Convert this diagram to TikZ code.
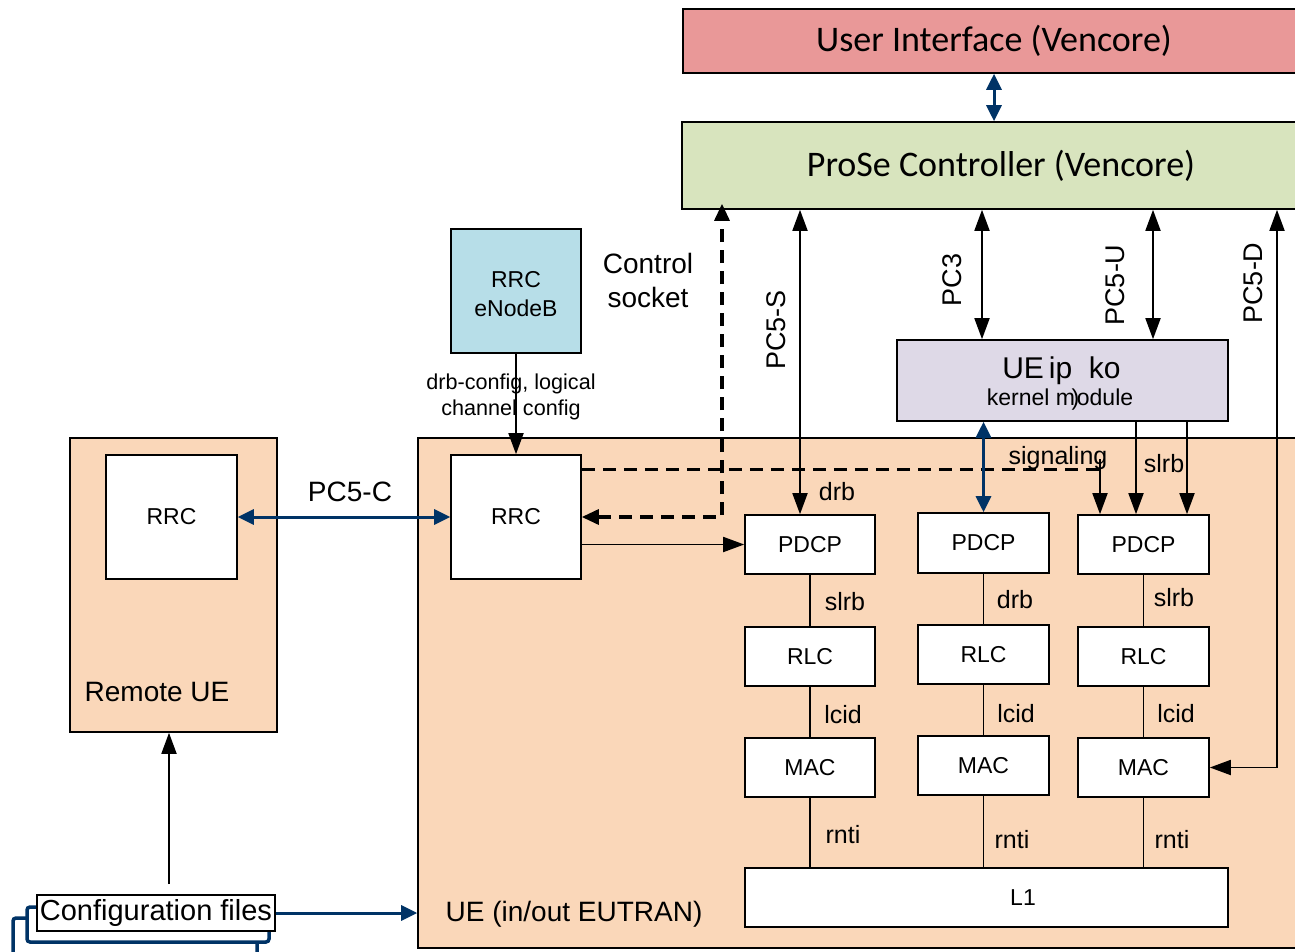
\documentclass[tikz,border=0pt]{standalone}
\usepackage{fontspec}
\setmainfont{Liberation Sans}
\newfontfamily\calib{Carlito}
\usetikzlibrary{arrows.meta,calc}
\definecolor{navy}{RGB}{0,51,102}
\definecolor{peach}{RGB}{250,215,185}
\definecolor{uired}{RGB}{233,152,152}
\definecolor{prosegreen}{RGB}{216,228,190}
\definecolor{enbblue}{RGB}{183,222,232}
\definecolor{lav}{RGB}{222,217,231}
\begin{document}
\begin{tikzpicture}[x=1pt,y=-1pt,
  box/.style={draw=black,line width=1.6pt,fill=white,inner sep=0pt,font=\fontsize{23}{29}\selectfont},
  cont/.style={draw=black,line width=1.6pt,fill=peach,inner sep=0pt},
  lbl/.style={inner sep=0pt,font=\fontsize{25}{29}\selectfont},
  biglbl/.style={inner sep=0pt,font=\fontsize{28}{34}\selectfont},
  rlbl/.style={inner sep=0pt,rotate=90,font=\fontsize{27}{31}\selectfont},
  arr/.style={line width=1.8pt,-{Triangle[length=21pt,width=15pt]}},
  darr/.style={line width=1.8pt,{Triangle[length=21pt,width=15pt]}-{Triangle[length=21pt,width=15pt]}},
  narr/.style={draw=navy,line width=3pt,{Triangle[length=16pt,width=15pt]}-{Triangle[length=16pt,width=15pt]}},
  nsarr/.style={draw=navy,line width=3pt,-{Triangle[length=16pt,width=15pt]}},
  dsh/.style={line width=3.2pt,dash pattern=on 13pt off 8pt},
  conn/.style={line width=1.8pt},
  cfgback/.style={draw=navy,line width=3.5pt,fill=white,rounded corners=3pt,inner sep=0pt},
]
\useasboundingbox (0,0) rectangle (1295,952);

% top boxes
\node[box,fill=uired,minimum width=622,minimum height=64,font=\calib\fontsize{36}{40}\selectfont] (ui) at (994,41) {\raisebox{-1pt}{User Interface (Vencore)}};
\node[box,fill=prosegreen,minimum width=638,minimum height=87,font=\calib\fontsize{36}{40}\selectfont] (prose) at (1001,165.5) {ProSe Controller (Vencore)};

% containers
\node[cont,minimum width=207,minimum height=294] (remote) at (173.5,585) {};
\node[cont,minimum width=900,minimum height=510] (uebox) at (868,693) {};

% eNB
\node[box,fill=enbblue,minimum width=130,minimum height=124] (enb) at (516,291) {};
\node[inner sep=0pt,align=center,font=\fontsize{23}{29}\selectfont] (enbt) at (516,294) {RRC\\eNodeB};

% UE ip ko
\node[box,fill=lav,minimum width=331,minimum height=81] (ueip) at (1062.5,380.5) {};
\node[inner sep=0pt,font=\fontsize{30}{34}\selectfont] (ueipa) at (1061.5,371) {UE\,ip\ \ ko};
\node[inner sep=0pt,font=\fontsize{23}{26}\selectfont] (ueipb) at (1060,400) {kernel m\kern-0.15em)\kern-0.1em odule};

% RRC boxes
\node[box,minimum width=131,minimum height=124] (rrcr) at (171.5,517) {RRC};
\node[box,minimum width=130,minimum height=124] (rrc) at (516,517) {RRC};

% protocol columns
\node[box,minimum width=130,minimum height=59] (pdcp1) at (810,544.5) {PDCP};
\node[box,minimum width=130,minimum height=59] (rlc1) at (810,656.5) {RLC};
\node[box,minimum width=130,minimum height=59] (mac1) at (810,767.5) {MAC};
\node[box,minimum width=131,minimum height=60] (pdcp2) at (983.5,543) {PDCP};
\node[box,minimum width=131,minimum height=59] (rlc2) at (983.5,654.5) {RLC};
\node[box,minimum width=131,minimum height=59] (mac2) at (983.5,765.5) {MAC};
\node[box,minimum width=131,minimum height=59] (pdcp3) at (1143.5,544.5) {PDCP};
\node[box,minimum width=131,minimum height=59] (rlc3) at (1143.5,656.5) {RLC};
\node[box,minimum width=131,minimum height=59] (mac3) at (1143.5,767.5) {MAC};
\node[box,minimum width=483,minimum height=59] (l1) at (986.5,897.5) {};
\node[inner sep=0pt,font=\fontsize{23}{27}\selectfont] (l1t) at (1023,898) {L1};

% configuration files stack
\node[cfgback,minimum width=244,minimum height=47] (cfg3) at (135,941.5) {};
\node[cfgback,minimum width=242,minimum height=35] (cfg2) at (148,924.5) {};
\node[draw=black,line width=1.5pt,fill=white,inner sep=0pt,minimum width=238,minimum height=36,font=\fontsize{29}{33}\selectfont] (cfg) at (156,913) {Configuration files};

% labels
\node[biglbl,align=center] (ctl) at (648,280) {Control\\socket};
\node[inner sep=0pt,align=center,font=\fontsize{21.6}{26}\selectfont] (drbcfg) at (511,397) {drb-config, logical\\channel config};
\node[biglbl] (pc5c) at (350,492) {PC5-C};
\node[biglbl] (remlbl) at (157,692) {Remote UE};
\node[biglbl] (uelbl) at (574,914) {UE (in/out EUTRAN)};
\node[rlbl] (pc5s) at (776,330) {PC5-S};
\node[rlbl] (pc3) at (952,280) {PC3};
\node[rlbl] (pc5u) at (1115,285) {PC5-U};
\node[rlbl] (pc5d) at (1253,283) {PC5-D};
\node[lbl] (sig) at (1058,458) {signaling};
\node[lbl] (slrbt) at (1164,464) {slrb};
\node[lbl] (drbt) at (837,492) {drb};
\node[lbl] (l1a) at (845,602) {slrb};
\node[lbl] (l1b) at (843,715) {lcid};
\node[lbl] (l1c) at (843,835) {rnti};
\node[lbl] (l2a) at (1015,600) {drb};
\node[lbl] (l2b) at (1016,714) {lcid};
\node[lbl] (l2c) at (1012,840) {rnti};
\node[lbl] (l3a) at (1174,598) {slrb};
\node[lbl] (l3b) at (1176,714) {lcid};
\node[lbl] (l3c) at (1172,840) {rnti};

% helper coordinates
\coordinate (xctl) at (722,0);
\coordinate (x5s) at (800,0);
\coordinate (x3) at (982,0);
\coordinate (x5u) at (1153,0);
\coordinate (x5d) at (1277,0);
\coordinate (xs1) at (1136,0);
\coordinate (xs2) at (1187,0);
\coordinate (xsig) at (1100,0);
\coordinate (ra) at (169,884);

% connectors
\draw[narr] (ui.south) -- (ui.south |- prose.north);
\draw[narr] (rrcr.east) -- (rrc.west);
\draw[arr] (enb.south) -- (rrc.north);
\draw[arr] (pdcp1.west -| rrc.east) -- (pdcp1.west);
\draw[dsh,{Triangle[length=17pt,width=15pt]}-{Triangle[length=17pt,width=15pt]}] (rrc.east) -| ([yshift=6pt]xctl |- prose.south);
\coordinate (sigc) at (xsig |- {$(rrc.north east)+(0,15)$});
\draw[dsh] ($(rrc.north east)+(0,15)$) -- (sigc);
\draw[arr] ([yshift=10pt]sigc) -- (xsig |- pdcp3.north);
\draw[darr] (x5s |- prose.south) -- (x5s |- pdcp1.north);
\draw[darr] (x3 |- prose.south) -- (x3 |- ueip.north);
\draw[darr] (x5u |- prose.south) -- (x5u |- ueip.north);
\draw[darr] (x5d |- prose.south) |- (mac3.east);
\draw[narr] (ueip.south -| pdcp2.north) -- (pdcp2.north);
\draw[arr] (xs1 |- ueip.south) -- (xs1 |- pdcp3.north);
\draw[arr] (xs2 |- ueip.south) -- (xs2 |- pdcp3.north);
\foreach \c in {1,2,3}{
  \draw[conn] (pdcp\c.south) -- (rlc\c.north);
  \draw[conn] (rlc\c.south) -- (mac\c.north);
  \draw[conn] (mac\c.south) -- (mac\c.south |- l1.north);
}
\draw[nsarr] (cfg.east) -- (cfg.east -| uebox.west);
\draw[arr] (ra) -- (ra |- remote.south);
\end{tikzpicture}
\end{document}
